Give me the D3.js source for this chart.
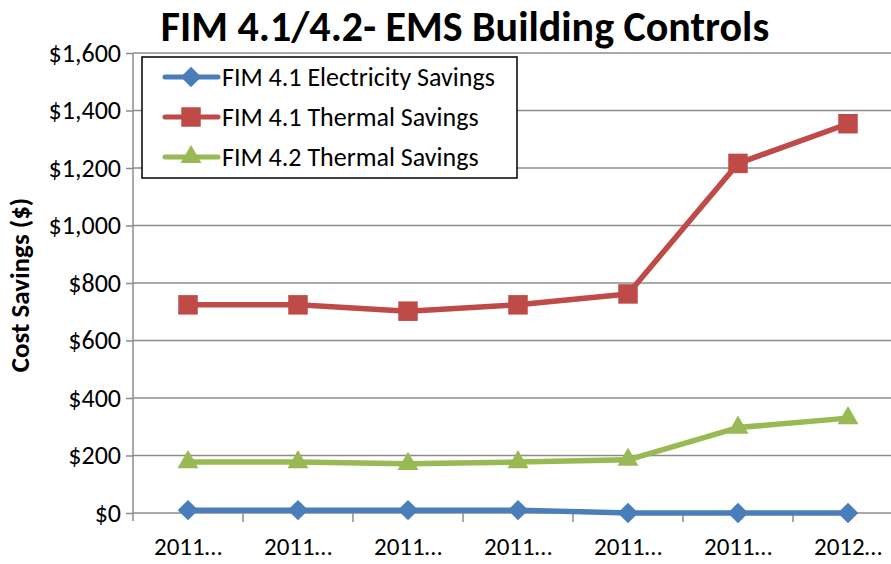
<!DOCTYPE html>
<html>
<head>
<meta charset="utf-8">
<script src="https://cdn.jsdelivr.net/npm/d3@7"></script>
<style>
  body { margin: 0; background: #fff; }
  text { font-family: Carlito, Lato, "Open Sans", sans-serif; }
</style>
</head>
<body>
<div id="chart"></div>
<script>
var categories = ["2011…", "2011…", "2011…", "2011…", "2011…", "2011…", "2012…"];
var elecSavings41 = [10, 10, 10, 10, 0, 0, 0];
var thermSavings41 = [724, 724, 702, 724, 762, 1216, 1354];
var thermSavings42 = [177, 177, 171, 177, 185, 297, 330];
var seriesNames = ["FIM 4.1 Electricity Savings", "FIM 4.1 Thermal Savings", "FIM 4.2 Thermal Savings"];
var yTicks = [0, 200, 400, 600, 800, 1000, 1200, 1400, 1600];

var w = 891, h = 564;
var plotLeft = 133, plotRight = 903, plotTop = 53, plotBottom = 513;

var svg = d3.select("#chart").append("svg")
  .attr("width", w)
  .attr("height", h);

var x = d3.scaleBand()
  .domain(d3.range(categories.length))
  .range([plotLeft, plotRight]);

var y = d3.scaleLinear()
  .domain([0, 1600])
  .range([plotBottom, plotTop]);

// gridlines
svg.append("g")
  .selectAll("line")
  .data(yTicks.filter(d => d > 0))
  .enter().append("line")
  .attr("x1", plotLeft).attr("x2", w)
  .attr("y1", d => y(d)).attr("y2", d => y(d))
  .style("stroke", "#8c8c8c")
  .style("stroke-width", 1.5);

// y axis
var yAxis = d3.axisLeft(y)
  .tickValues(yTicks)
  .tickSize(7)
  .tickPadding(5)
  .tickFormat(d => "$" + d3.format(",")(d));

var gy = svg.append("g")
  .attr("transform", "translate(" + plotLeft + ",0)")
  .call(yAxis);
gy.select(".domain").attr("d", "M0," + plotTop + "V" + (plotBottom + 8)).style("stroke", "#8c8c8c").style("stroke-width", 1.5);
gy.selectAll(".tick line").style("stroke", "#8c8c8c").style("stroke-width", 1.5);
gy.selectAll(".tick text").style("font-size", "26px").style("fill", "#000");

// x axis
var xTickPos = d3.range(categories.length + 1).map(i => plotLeft + i * x.bandwidth());
var gx = svg.append("g");
gx.append("line")
  .attr("x1", plotLeft).attr("x2", w)
  .attr("y1", plotBottom).attr("y2", plotBottom)
  .style("stroke", "#8c8c8c").style("stroke-width", 1.5);
gx.selectAll(".xt")
  .data(xTickPos.slice(1))
  .enter().append("line")
  .attr("x1", d => d).attr("x2", d => d)
  .attr("y1", plotBottom).attr("y2", plotBottom + 9)
  .style("stroke", "#8c8c8c").style("stroke-width", 1.5);
gx.selectAll("text")
  .data(categories)
  .enter().append("text")
  .attr("x", (d, i) => x(i) + x.bandwidth() / 2)
  .attr("y", 555)
  .attr("text-anchor", "middle")
  .style("font-size", "25px")
  .text(d => d);

// y label
svg.append("text")
  .attr("transform", "translate(29,285) rotate(-90)")
  .attr("text-anchor", "middle")
  .style("font-size", "27px")
  .style("font-weight", "bold")
  .text("Cost Savings ($)");

// title
svg.append("text")
  .attr("x", 465)
  .attr("y", 41)
  .attr("text-anchor", "middle")
  .style("font-size", "42px")
  .style("font-weight", "bold")
  .text("FIM 4.1/4.2- EMS Building Controls");

var diamond = {
  draw: function(ctx, size) {
    var r = Math.sqrt(size) / 2 * Math.SQRT2;
    ctx.moveTo(0, -r); ctx.lineTo(r, 0); ctx.lineTo(0, r); ctx.lineTo(-r, 0); ctx.closePath();
  }
};

var series = [
  { name: seriesNames[0], values: elecSavings41, color: "#4a7ebb", shape: diamond, size: 210 },
  { name: seriesNames[1], values: thermSavings41, color: "#be4b48", shape: d3.symbolSquare, size: 380 },
  { name: seriesNames[2], values: thermSavings42, color: "#98b954", shape: d3.symbolTriangle, size: 190 }
];

var line = d3.line()
  .x((d, i) => x(i) + x.bandwidth() / 2)
  .y(d => y(d));

series.forEach(function(s) {
  svg.append("path")
    .datum(s.values)
    .attr("d", line)
    .style("fill", "none")
    .style("stroke", s.color)
    .style("stroke-width", 5.5)
    .style("stroke-linejoin", "round");
  svg.selectAll(null)
    .data(s.values)
    .enter().append("path")
    .attr("transform", (d, i) => "translate(" + (x(i) + x.bandwidth() / 2) + "," + y(d) + ")")
    .attr("d", d3.symbol().type(s.shape).size(s.size))
    .style("fill", s.color);
});

// legend
var lg = svg.append("g");
lg.append("rect")
  .attr("x", 142).attr("y", 57)
  .attr("width", 375).attr("height", 121)
  .style("fill", "#fff")
  .style("stroke", "#000")
  .style("stroke-width", 1.5);

series.forEach(function(s, i) {
  var cy = 77 + i * 40;
  lg.append("line")
    .attr("x1", 165).attr("x2", 218)
    .attr("y1", cy).attr("y2", cy)
    .style("stroke", s.color)
    .style("stroke-width", 5)
    .style("stroke-linecap", "round");
  lg.append("path")
    .attr("transform", "translate(191," + cy + ")")
    .attr("d", d3.symbol().type(s.shape).size(s.size))
    .style("fill", s.color);
  lg.append("text")
    .attr("x", 222)
    .attr("y", cy + 9)
    .style("font-size", "26px")
    .text(s.name);
});
</script>
</body>
</html>
